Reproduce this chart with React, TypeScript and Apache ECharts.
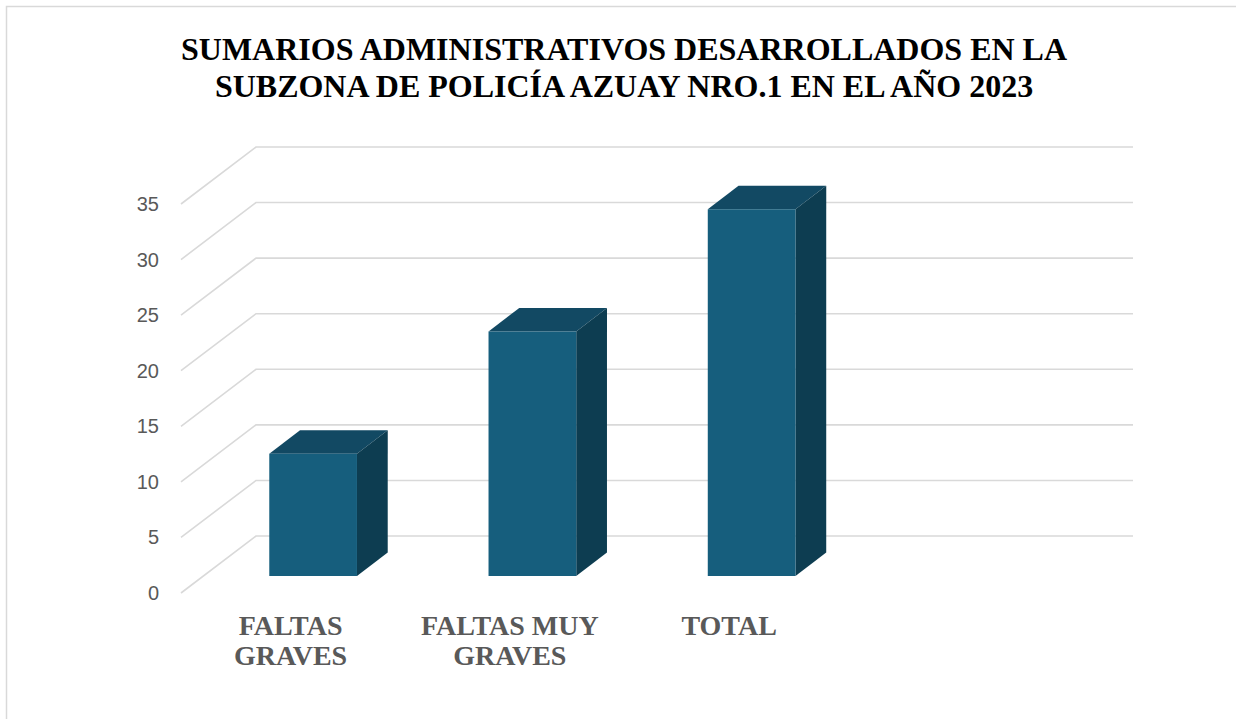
import React, { useEffect, useRef } from "react";
import * as echarts from "echarts";

const titleLines = [
  "SUMARIOS ADMINISTRATIVOS DESARROLLADOS EN LA",
  "SUBZONA DE POLICÍA AZUAY NRO.1 EN EL AÑO 2023",
];
const categories = ["FALTAS\nGRAVES", "FALTAS MUY\nGRAVES", "TOTAL", ""];
const values = [11, 22, 33];
const yMin = 0;
const yMax = 35;
const yInterval = 5;
const yTicks = [0, 5, 10, 15, 20, 25, 30, 35];

// 3D depth offset (pixels) of the back wall relative to the front plane
const DX = 75;
const DY = -57;
const F1 = 0.3;
const F2 = 0.71;

export default function App() {
  const ref = useRef<HTMLDivElement>(null);
  useEffect(() => {
    if (!ref.current) return;
    const chart = echarts.init(ref.current, null, { renderer: "svg" });
    const gridRender = (params: any, api: any) => {
      const cs = params.coordSys;
      const v = api.value(1);
      const y = api.coord([0, v])[1];
      const x0 = cs.x;
      return {
        type: "polyline",
        silent: true,
        shape: {
          points: [
            [x0, y],
            [x0 + DX, y + DY],
            [x0 + cs.width + DX, y + DY],
          ],
        },
        style: { stroke: "#d9d9d9", lineWidth: 1.6, fill: null },
      };
    };
    const barRender = (params: any, api: any) => {
      const i = api.value(0);
      const v = api.value(1);
      const base = api.coord([i, 0]);
      const top = api.coord([i, v]);
      const band = api.size([1, 0])[0];
      const w = band * 0.4;
      const xL = base[0] - w / 2 + F1 * DX;
      const xR = xL + w;
      const yB = base[1] + F1 * DY;
      const yT = top[1] + F1 * DY;
      const ddx = (F2 - F1) * DX;
      const ddy = (F2 - F1) * DY;
      return {
        type: "group",
        children: [
          {
            type: "polygon",
            shape: { points: [[xL, yT], [xR, yT], [xR + ddx, yT + ddy], [xL + ddx, yT + ddy]] },
            style: { fill: "#124963" },
          },
          {
            type: "polygon",
            shape: { points: [[xR, yT], [xR + ddx, yT + ddy], [xR + ddx, yB + ddy], [xR, yB]] },
            style: { fill: "#0d3d51" },
          },
          {
            type: "rect",
            shape: { x: xL, y: yT, width: w, height: yB - yT },
            style: { fill: "#165e7d" },
          },
        ],
      };
    };
    chart.setOption({
      animation: false,
      backgroundColor: "#ffffff",
      title: {
        text: titleLines.join("\n"),
        left: 619,
        top: 25,
        textAlign: "center",
        textStyle: {
          fontFamily: "'Liberation Serif', 'Times New Roman', serif",
          fontWeight: "bold",
          fontSize: 32,
          lineHeight: 37,
          color: "#000000",
        },
      },
      graphic: [
        {
          type: "rect",
          shape: { x: 6.5, y: 6.5, width: 1260, height: 740 },
          style: { fill: null, stroke: "#d9d9d9", lineWidth: 1.5 },
          silent: true,
        },
      ],
      grid: { left: 181, top: 204, width: 877, height: 389 },
      xAxis: {
        type: "category",
        data: categories,
        axisLine: { show: false },
        axisTick: { show: false },
        axisLabel: {
          margin: 17,
          interval: 0,
          fontFamily: "'Liberation Serif', 'Times New Roman', serif",
          fontWeight: "bold",
          fontSize: 28,
          lineHeight: 30,
          color: "#595959",
        },
        splitLine: { show: false },
      },
      yAxis: {
        type: "value",
        min: yMin,
        max: yMax,
        interval: yInterval,
        axisLine: { show: false },
        axisTick: { show: false },
        splitLine: { show: false },
        axisLabel: {
          margin: 22,
          fontFamily: "'Liberation Sans', Arial, sans-serif",
          fontSize: 20,
          color: "#595959",
        },
      },
      series: [
        {
          type: "custom",
          renderItem: gridRender,
          data: yTicks.map((v) => [0, v]),
          encode: { x: 0, y: 1 },
          silent: true,
          z: 1,
        },
        {
          type: "custom",
          renderItem: barRender,
          data: values.map((v, i) => [i, v]),
          encode: { x: 0, y: 1 },
          z: 2,
        },
      ],
    });
    return () => chart.dispose();
  }, []);
  return (
    <div
      ref={ref}
      style={{ position: "absolute", left: 0, top: 0, width: 1236, height: 719 }}
    />
  );
}
